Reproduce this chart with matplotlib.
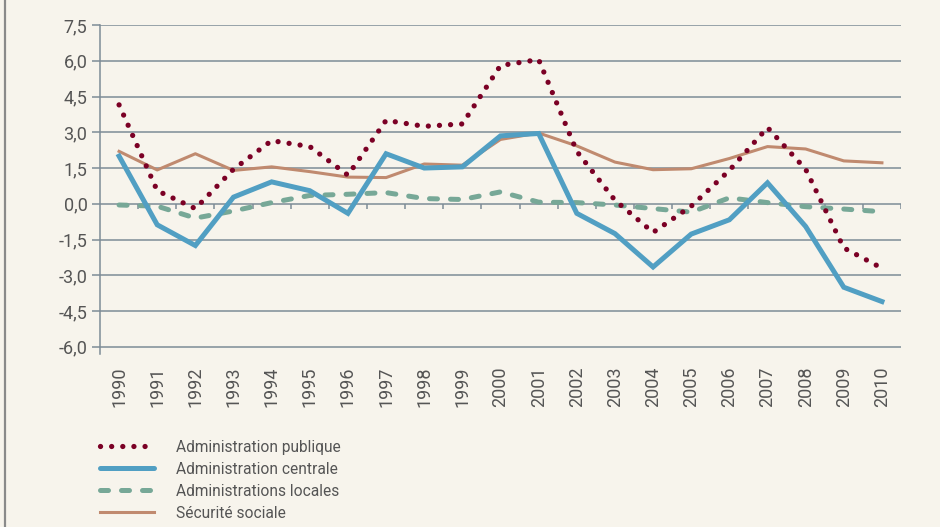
import matplotlib
matplotlib.use("Agg")
import matplotlib.pyplot as plt
from matplotlib.lines import Line2D

years = list(range(1990, 2011))
year_labels = [str(y) for y in years]

admin_publique = [4.15, 0.55, -0.2, 1.45, 2.65, 2.4, 1.2, 3.5, 3.25, 3.35, 5.8,
                  6.05, 2.2, 0.15, -1.2, -0.1, 1.4, 3.2, 1.45, -1.85, -2.7]
admin_centrale = [2.0, -0.88, -1.75, 0.28, 0.92, 0.55, -0.4, 2.1, 1.5, 1.55, 2.85,
                  2.95, -0.4, -1.25, -2.65, -1.27, -0.67, 0.88, -0.95, -3.5, -4.1]
admin_locales = [-0.05, -0.1, -0.6, -0.3, 0.05, 0.35, 0.4, 0.47, 0.22, 0.18, 0.5,
                 0.07, 0.05, -0.05, -0.2, -0.35, 0.25, 0.05, -0.12, -0.22, -0.33]
securite_sociale = [2.2, 1.42, 2.1, 1.4, 1.55, 1.35, 1.12, 1.1, 1.67, 1.62, 2.7,
                    2.97, 2.43, 1.75, 1.43, 1.47, 1.9, 2.4, 2.3, 1.8, 1.72]

series_names = ["Administration publique", "Administration centrale",
                "Administrations locales", "Sécurité sociale"]
y_ticks = [7.5, 6.0, 4.5, 3.0, 1.5, 0.0, -1.5, -3.0, -4.5, -6.0]

BG = "#f7f4ec"
GRID = "#7d8c97"
TEXT = "#555555"
C_PUB = "#7b0025"
C_CEN = "#519fc3"
C_LOC = "#77a897"
C_SEC = "#c08a6f"

plt.rcParams["font.family"] = ["Roboto", "DejaVu Sans"]

fig = plt.figure(figsize=(9.4, 5.27), dpi=100, facecolor=BG)
ax = fig.add_axes([100 / 940, 1 - 354 / 527, 801 / 940, 329 / 527])
ax.set_facecolor(BG)

x = list(range(len(years)))

# horizontal grid
for v in y_ticks:
    ax.axhline(v, color=GRID, lw=1.1, zorder=1)

# small ticks between years along the zero line
for k in range(len(years)):
    ax.plot([k + 0.5, k + 0.5], [0, -0.22], color=GRID, lw=1.1, zorder=1,
            solid_capstyle="butt")

ax.plot(x, securite_sociale, color=C_SEC, lw=2.2, zorder=3,
        solid_joinstyle="round")
ax.plot(x, admin_locales, color=C_LOC, lw=3.6, zorder=3,
        linestyle=(0, (1.6, 2.6)), dash_capstyle="round")
ax.plot(x, admin_centrale, color=C_CEN, lw=3.6, zorder=4,
        solid_joinstyle="miter")
ax.plot(x, admin_publique, color=C_PUB, lw=3.8, zorder=5,
        linestyle=(0, (0.01, 2.1)), dash_capstyle="round")

ax.set_xlim(-0.5, 20.5)
ax.set_ylim(-6.3, 7.5)

ax.set_yticks(y_ticks)
ax.set_yticklabels([f"{v:.1f}".replace(".", ",") for v in y_ticks])
ax.set_xticks(x)
ax.set_xticklabels(year_labels, rotation=90)

ax.tick_params(axis="y", length=6, width=1.1, color=GRID, labelsize=13,
               labelcolor=TEXT, pad=3)
ax.tick_params(axis="x", length=0, labelsize=13, labelcolor=TEXT, pad=9)

for s in ["top", "right", "bottom"]:
    ax.spines[s].set_visible(False)
ax.spines["left"].set_color(GRID)
ax.spines["left"].set_linewidth(1.1)

handles = [
    Line2D([], [], color=C_PUB, lw=3.8, linestyle=(0, (0.01, 2.1)),
           dash_capstyle="round"),
    Line2D([], [], color=C_CEN, lw=3.6, solid_capstyle="round"),
    Line2D([], [], color=C_LOC, lw=3.6, linestyle=(0, (1.6, 2.6)),
           dash_capstyle="round"),
    Line2D([], [], color=C_SEC, lw=2.2),
]
leg = fig.legend(handles, series_names, loc="upper left",
                 bbox_to_anchor=(92 / 940, 1 - 432 / 527), frameon=False,
                 fontsize=11.2, handlelength=3.5, handletextpad=1.4,
                 labelspacing=0.45, borderpad=0)
for t in leg.get_texts():
    t.set_color(TEXT)

# left frame rule
fig.add_artist(Line2D([5 / 940, 5 / 940], [0, 1], color="#8a8a8a", lw=1.6,
                      transform=fig.transFigure))

fig.savefig("out.png", dpi=100, facecolor=BG)
